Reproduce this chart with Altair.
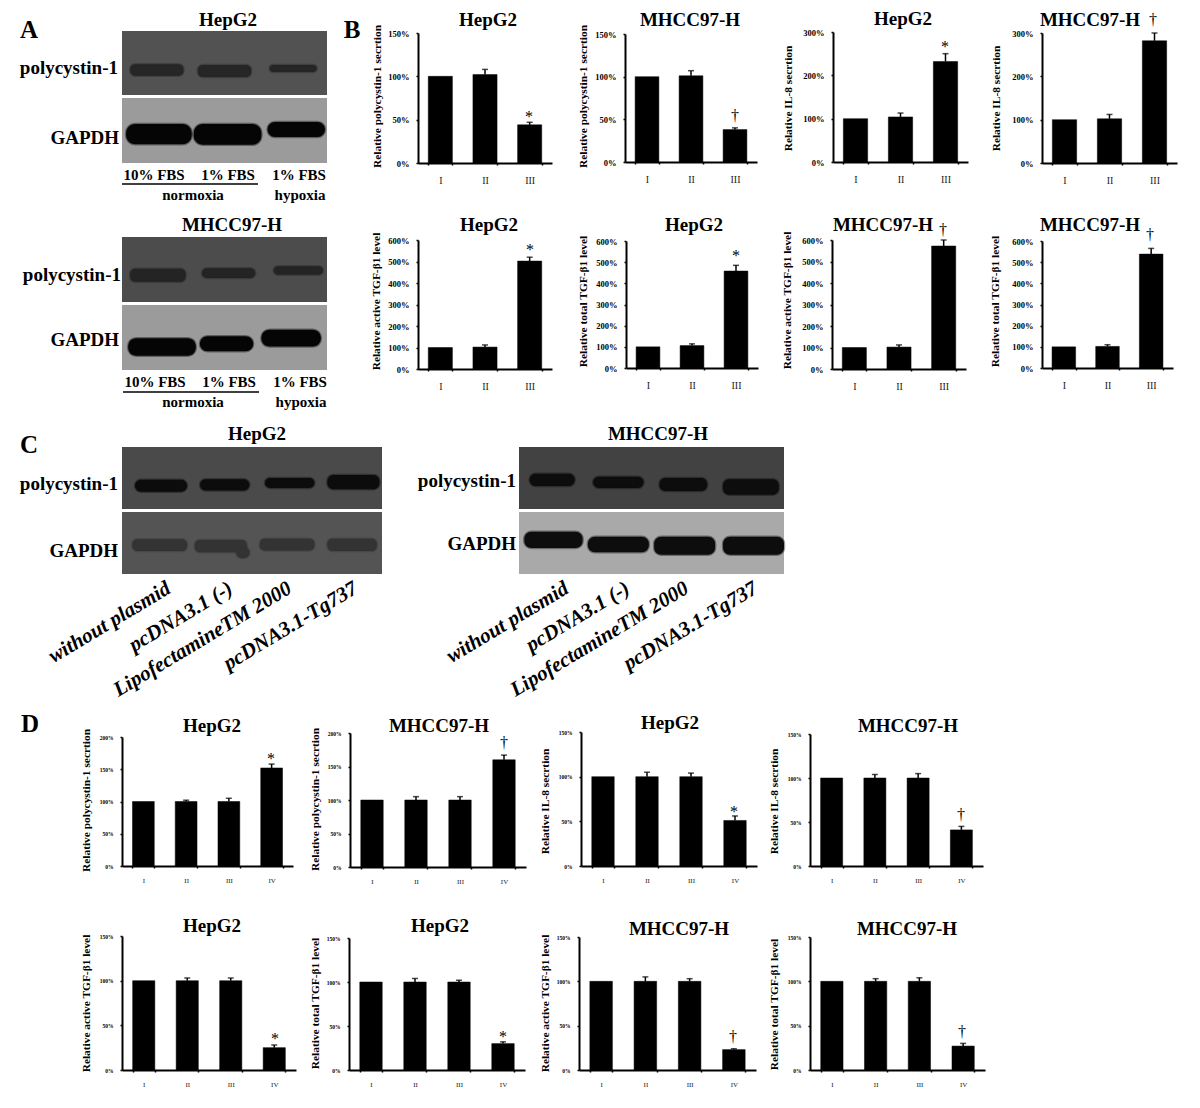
import altair as alt
import pandas as pd

FONT = "Liberation Serif"
W, H = 1184, 1092

# ---- chart values ----
roman3 = ["I", "II", "III"]
roman4 = ["I", "II", "III", "IV"]

b_values = [[100, 102, 44], [100, 101, 38], [100, 104, 232], [100, 102, 282],
            [100, 102, 502], [100, 106, 458], [100, 102, 572], [100, 102, 538]]
b_tops = [[None, 108, 47], [None, 107, 40], [None, 113, 250], [None, 112, 300],
          [None, 112, 520], [None, 114, 485], [None, 112, 600], [None, 110, 565]]
b_ymax = [150, 150, 300, 300, 600, 600, 600, 600]
b_ystep = [50, 50, 100, 100, 100, 100, 100, 100]
b_ytitles = ["Relative polycystin-1 secrtion", "Relative polycystin-1 secrtion",
             "Relative IL-8 secrtion", "Relative IL-8 secrtion",
             "Relative active TGF-β1 level", "Relative total TGF-β1 level",
             "Relative active TGF-β1 level", "Relative total TGF-β1 level"]
b_titles = ["HepG2", "MHCC97-H", "HepG2", "MHCC97-H", "HepG2", "HepG2", "MHCC97-H", "MHCC97-H"]
b_marks = ["*", "†", "*", "†", "*", "*", "†", "†"]

d_values = [[100, 100, 100, 152], [100, 100, 100, 160], [100, 100, 100, 51], [100, 100, 100, 41],
            [100, 100, 100, 25], [100, 100, 100, 30], [100, 100, 100, 23], [100, 100, 100, 27]]
d_tops = [[None, 102, 105, 158], [None, 105, 105, 167], [None, 105, 104, 56], [None, 104, 105, 45],
          [None, 103, 103, 28], [None, 104, 102, 32], [None, 105, 103, 24], [None, 103, 104, 30]]
d_ymax = [200, 200, 150, 150, 150, 150, 150, 150]
d_ytitles = ["Relative polycystin-1 secrtion", "Relative polycystin-1 secrtion",
             "Relative IL-8 secrtion", "Relative IL-8 secrtion",
             "Relative active TGF-β1 level", "Relative total TGF-β1 level",
             "Relative active TGF-β1 level", "Relative total TGF-β1 level"]
d_titles = ["HepG2", "MHCC97-H", "HepG2", "MHCC97-H", "HepG2", "HepG2", "MHCC97-H", "MHCC97-H"]
d_marks = ["*", "†", "*", "†", "*", "*", "†", "†"]

# western blots: band extents in percent of the blot's width and height
a1_poly = [[4, 30, 52, 70], [37, 63, 53, 72], [72, 95, 53, 64]]
a1_gapdh = [[2, 34, 40, 71], [35, 68, 40, 72], [71, 99, 37, 60]]
a2_poly = [[4, 31, 49, 69], [39, 65, 48, 63], [74, 98, 45, 58]]
a2_gapdh = [[3, 36, 51, 78], [38, 64, 48, 71], [68, 97, 38, 64]]
c1_poly = [[5, 25, 53, 72], [30, 49, 52, 70], [55, 74, 50, 66], [79, 99, 45, 68]]
c1_gapdh = [[4, 25, 44, 63], [28, 48, 45, 65], [44, 49, 57, 74], [53, 74, 43, 62], [79, 98, 43, 63]]
c2_poly = [[4, 21, 43, 63], [28, 47, 48, 66], [53, 71, 50, 71], [77, 98, 52, 77]]
c2_gapdh = [[2, 24, 32, 58], [26, 49, 40, 65], [51, 74, 40, 69], [77, 100, 40, 69]]

lanes_a = ["10% FBS", "1% FBS", "1% FBS"]
conds_a = ["normoxia", "hypoxia"]
lanes_c = ["without plasmid", "pcDNA3.1 (-)", "LipofectamineTM 2000", "pcDNA3.1-Tg737"]

# ---- helpers (positions below are page pixels) ----
layers = []


def label(txt, x, y, size=19, align="center", angle=0, style="normal", baseline="middle", weight="bold"):
    layers.append(
        alt.Chart(pd.DataFrame({"t": [txt]}))
        .mark_text(font=FONT, fontSize=size, fontWeight=weight, fontStyle=style, align=align,
                   baseline=baseline, angle=angle, color="#000000")
        .encode(x=alt.value(x - 8), y=alt.value(y - 8), text="t:N")
    )


def bar_panel(cats, vals, tops, ymax, step, box, ytitle, tx, ty, tick_size, lab_size, lab_pad, inner):
    x0, x1, ytop, ybot = box
    df = pd.DataFrame({"c": cats, "v": vals, "t": tops})
    xs = alt.Scale(domain=cats, range=[x0 - 8, x1 - 8], paddingInner=inner, paddingOuter=inner / 2)
    ys = alt.Scale(domain=[0, ymax], range=[ybot - 8, ytop - 8], nice=False)
    xax = alt.Axis(orient="bottom", offset=(ybot - 8) - H, labelAngle=0, title=None, labelFont=FONT,
                   labelFontSize=lab_size + 1, labelPadding=lab_pad, labelColor="#222222",
                   domainColor="#000000", domainWidth=2, tickColor="#000000", tickSize=2, tickWidth=1.5,
                   tickBand="extent", grid=False, labelFontWeight="normal")
    yax = alt.Axis(orient="left", offset=-(x0 - 8), values=list(range(0, ymax + 1, step)),
                   labelExpr="datum.value + '%'", labelFont=FONT, labelFontSize=tick_size,
                   labelFontWeight="bold", labelColor="#000000", labelPadding=7,
                   domainColor="#000000", domainWidth=2, tickColor="#000000", tickSize=2, tickWidth=1.5,
                   grid=False, title=ytitle, titleFont=FONT, titleFontSize=11.4, titleFontWeight="bold",
                   titleColor="#000000", titleX=tx - x0, titleY=ty - 8, titleAlign="center",
                   titleBaseline="middle", titleAngle=270)
    layers.append(alt.Chart(df).mark_bar(color="#000000", stroke="#000000", strokeWidth=0.5).encode(
        x=alt.X("c:N", scale=xs, axis=xax, sort=cats),
        y=alt.Y("v:Q", scale=ys, axis=yax),
    ))
    edf = df.dropna(subset=["t"])
    layers.append(alt.Chart(edf).mark_rule(color="#000000", strokeWidth=1.5).encode(
        x=alt.X("c:N", scale=xs, axis=None, sort=cats),
        y=alt.Y("v:Q", scale=ys, axis=None),
        y2="t:Q",
    ))
    layers.append(alt.Chart(edf).mark_tick(color="#000000", thickness=1.5, size=6, orient="horizontal").encode(
        x=alt.X("c:N", scale=xs, axis=None, sort=cats),
        y=alt.Y("t:Q", scale=ys, axis=None),
    ))


def blot(bands, box, bg, ink, radius=5):
    x0, x1, ytop, ybot = box
    xs = alt.Scale(domain=[0, 100], range=[x0 - 8, x1 - 8], nice=False)
    ys = alt.Scale(domain=[0, 100], range=[ytop - 8, ybot - 8], nice=False)
    frame = pd.DataFrame({"a": [0], "b": [100], "c": [0], "d": [100]})
    df = pd.DataFrame(bands, columns=["a", "b", "c", "d"])
    marks = [
        alt.Chart(frame).mark_rect(color=bg),
        alt.Chart(df).mark_rect(color=ink, opacity=0.0, cornerRadius=radius, stroke=ink, strokeWidth=6,
                                strokeOpacity=0.18),
        alt.Chart(df).mark_rect(color=ink, cornerRadius=radius, stroke=ink, strokeWidth=2.5, strokeOpacity=0.4),
    ]
    for mk in marks:
        layers.append(mk.encode(
            x=alt.X("a:Q", scale=xs, axis=None), x2="b:Q",
            y=alt.Y("c:Q", scale=ys, axis=None), y2="d:Q",
        ))


# ---- panel A ----
label("A", 29, 30, 25)
label("HepG2", 228, 20)
blot(a1_poly, (122, 327, 31, 95), "#525252", "#262626", 5)
blot(a1_gapdh, (122, 327, 98, 163), "#9b9b9b", "#050505", 9)
label("polycystin-1", 118, 68, align="right")
label("GAPDH", 119, 138, align="right")
for t, x in zip(lanes_a, [154, 228, 299]):
    label(t, x, 175, 15)
label(conds_a[0], 193, 195, 15)
label(conds_a[1], 300, 195, 15)
layers.append(alt.Chart(pd.DataFrame({"k": [0]})).mark_rule(color="#000000", strokeWidth=1.5).encode(
    x=alt.value(122 - 8), x2=alt.value(258 - 8), y=alt.value(184 - 8)))

label("MHCC97-H", 232, 225)
blot(a2_poly, (122, 327, 237, 302), "#4c4c4c", "#242424", 5)
blot(a2_gapdh, (122, 327, 305, 370), "#9b9b9b", "#050505", 8)
label("polycystin-1", 121, 275, align="right")
label("GAPDH", 119, 340, align="right")
for t, x in zip(lanes_a, [155, 229, 300]):
    label(t, x, 382, 15)
label(conds_a[0], 193, 402, 15)
label(conds_a[1], 301, 402, 15)
layers.append(alt.Chart(pd.DataFrame({"k": [0]})).mark_rule(color="#000000", strokeWidth=1.5).encode(
    x=alt.value(123 - 8), x2=alt.value(259 - 8), y=alt.value(392 - 8)))

# ---- panel B ----
label("B", 352, 30, 25)
b_boxes = [(418, 552, 33, 163), (625, 757, 34, 162), (833, 968, 32, 162), (1042, 1177, 33, 163),
           (418, 552, 240, 369), (626, 758, 241, 368), (832, 966, 240, 369), (1042, 1173, 241, 368)]
b_tx = [377, 583, 788, 996, 376, 583, 787, 995]
b_ty = [96, 96, 98, 98, 301, 301, 300, 301]
b_title_xy = [(488, 20), (690, 20), (903, 19), (1090, 20), (489, 225), (694, 225), (883, 225), (1090, 225)]
b_mark_xy = [(529, 117), (735, 116), (945, 47), (1153, 20), (530, 250), (736, 256), (943, 230), (1150, 235)]
for i in range(8):
    bar_panel(roman3, b_values[i], b_tops[i], b_ymax[i], b_ystep[i], b_boxes[i], b_ytitles[i],
              b_tx[i], b_ty[i], 8.5, 9, 10, 0.46)
    label(b_titles[i], *b_title_xy[i])
    label(b_marks[i], *b_mark_xy[i], size=16, weight="normal")

# ---- panel C ----
label("C", 29, 445, 25)
label("HepG2", 257, 434)
label("MHCC97-H", 658, 434)
blot(c1_poly, (122, 382, 447, 509), "#4a4a4a", "#0c0c0c", 6)
blot(c1_gapdh, (122, 382, 512, 574), "#545454", "#333333", 5)
blot(c2_poly, (519, 784, 447, 509), "#424242", "#0d0d0d", 6)
blot(c2_gapdh, (519, 784, 512, 574), "#a9a9a9", "#0d0d0d", 7)
label("polycystin-1", 118, 484, align="right")
label("GAPDH", 118, 551, align="right")
label("polycystin-1", 516, 481, align="right")
label("GAPDH", 516, 544, align="right")
for t, x in zip(lanes_c, [169, 231, 290, 356]):
    label(t, x, 587, 21, align="right", angle=329, style="italic")
for t, x in zip(lanes_c, [567, 628, 687, 756]):
    label(t, x, 587, 21, align="right", angle=329, style="italic")

# ---- panel D ----
label("D", 30, 724, 25)
d_boxes = [(122, 293, 737, 866), (350, 526, 733, 867), (581, 757, 732, 866), (810, 983, 734, 866),
           (122, 296, 936, 1070), (349, 525, 938, 1070), (579, 756, 937, 1070), (810, 985, 937, 1070)]
d_tx = [86, 315, 545, 774, 86, 315, 545, 774]
d_ty = [800, 799, 801, 801, 1003, 1003, 1003, 1004]
d_title_xy = [(212, 726), (439, 726), (670, 723), (908, 726), (212, 926), (440, 926), (679, 929), (907, 929)]
d_mark_xy = [(271, 759), (504, 743), (734, 812), (961, 815), (275, 1039), (503, 1037), (733, 1037), (962, 1032)]
for i in range(8):
    bar_panel(roman4, d_values[i], d_tops[i], d_ymax[i], 50, d_boxes[i], d_ytitles[i],
              d_tx[i], d_ty[i], 5.5, 6, 8, 0.49)
    label(d_titles[i], *d_title_xy[i])
    label(d_marks[i], *d_mark_xy[i], size=16, weight="normal")

chart = (
    alt.layer(*layers)
    .resolve_scale(x="independent", y="independent")
    .properties(width=W, height=H, padding=0, autosize=alt.AutoSizeParams(type="none"), background="#ffffff")
    .configure_view(stroke=None)
)
chart.save("out.html", embed_options={"renderer": "svg", "actions": False})
